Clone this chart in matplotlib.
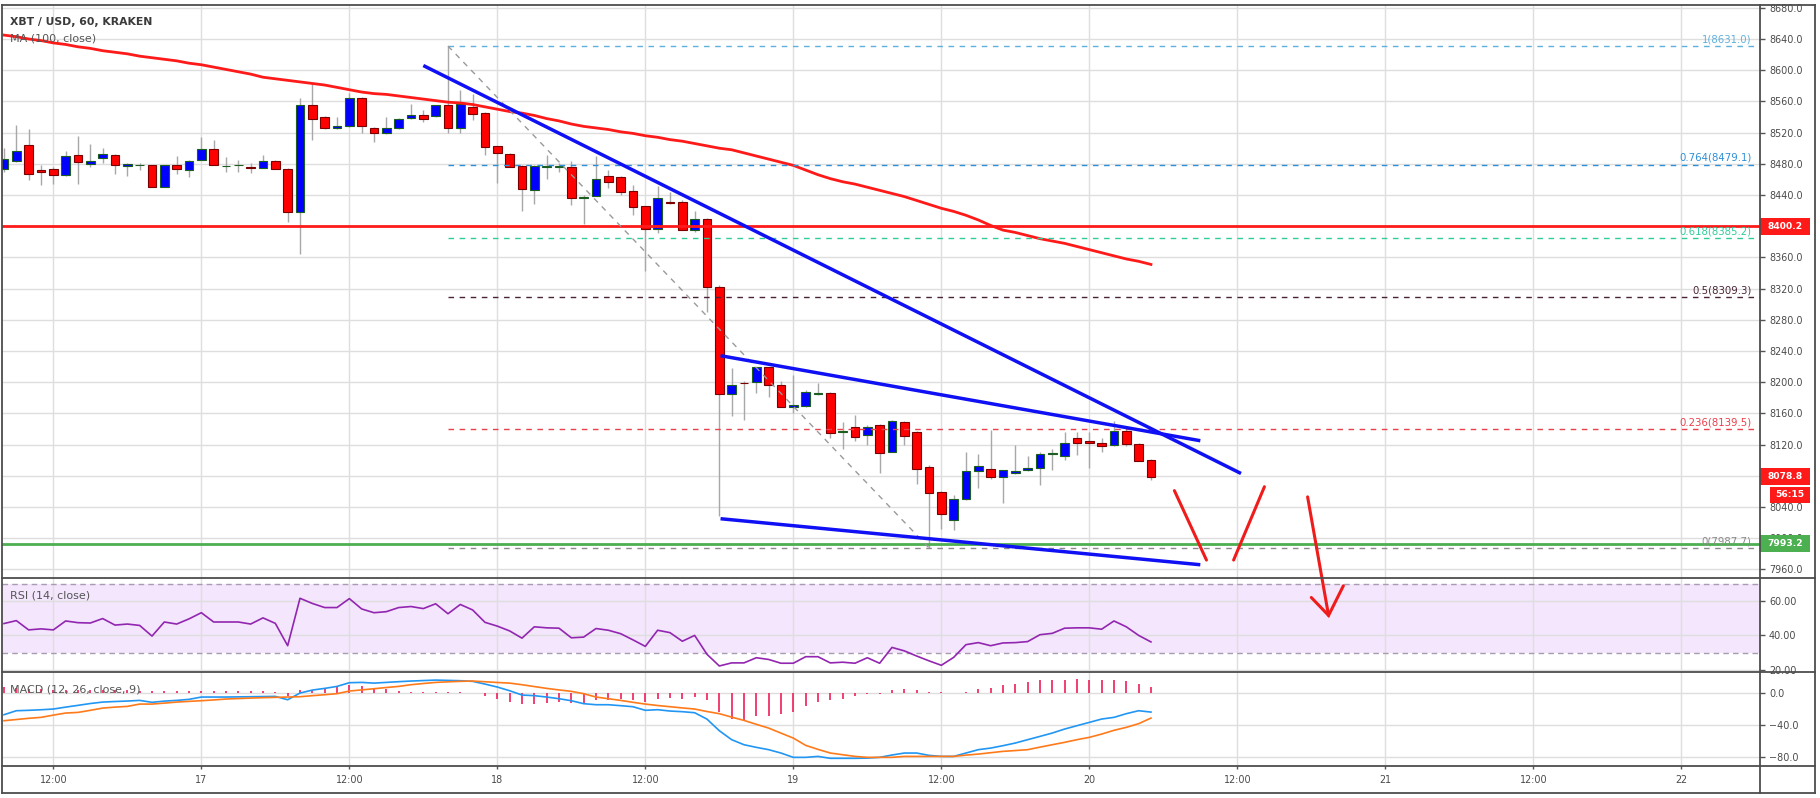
import matplotlib
matplotlib.use('Agg')
import matplotlib.pyplot as plt
import matplotlib.transforms as mtrans
from matplotlib.patches import Rectangle
from matplotlib.lines import Line2D

# ---------------- data (hour index 0 = 16th 08:00) ----------------
opens = [8473, 8483, 8504, 8472, 8473, 8466, 8491, 8480, 8487, 8491,
         8477, 8478, 8478.5, 8450, 8478.5, 8472, 8485, 8499, 8477, 8478,
         8475.5, 8474, 8484, 8473, 8418, 8556, 8539.6, 8525.5, 8528, 8564,
         8525.5, 8519, 8525.5, 8538.7, 8542, 8541, 8555, 8526, 8553, 8544.7,
         8502.8, 8492.6, 8477.6, 8447, 8476.3, 8476.3, 8475.5, 8436, 8439, 8464.4,
         8462.7, 8444.7, 8425.5, 8397, 8430.6, 8430.6, 8395, 8409, 8322, 8184.5,
         8199.4, 8200, 8219, 8196, 8167.8, 8170, 8185.3, 8185.7, 8136.5, 8142,
         8132, 8144.7, 8111, 8148.6, 8135.7, 8091.7, 8058.8, 8023, 8050, 8086,
         8088.3, 8079, 8083, 8087, 8090, 8108.4, 8105, 8128, 8124.2, 8121.6,
         8119, 8137, 8120.4, 8099.8]
highs = [8500, 8530, 8525, 8478, 8476, 8497, 8516, 8505, 8500, 8492,
         8481, 8481.6, 8479, 8479, 8490, 8485, 8514, 8510, 8489, 8484.7,
         8481, 8491, 8485, 8474, 8564, 8584, 8541, 8540, 8571, 8566,
         8527, 8540, 8539, 8556.7, 8549, 8556, 8631, 8575, 8570, 8546,
         8503, 8494, 8478, 8478, 8491, 8481, 8484, 8440, 8490, 8472,
         8465, 8453, 8426, 8451, 8444, 8433, 8419, 8410, 8325, 8218,
         8201, 8220, 8220, 8201, 8209, 8190, 8198.6, 8187, 8149, 8158,
         8145, 8146, 8152, 8150, 8137, 8094, 8060, 8055, 8111, 8108,
         8139, 8088, 8119.5, 8105, 8110, 8115, 8136.6, 8136.6, 8136, 8128,
         8150.7, 8141, 8122, 8101]
lows = [8470, 8482, 8459, 8453, 8454, 8464, 8454, 8476, 8481, 8467,
        8465, 8472, 8450, 8450, 8467, 8463.5, 8485, 8478, 8470, 8470,
        8468, 8474, 8473, 8406, 8365, 8511, 8525, 8525, 8527, 8519,
        8508, 8518, 8525, 8537, 8533, 8540, 8519, 8519, 8536, 8491,
        8455, 8476, 8419.5, 8429, 8461, 8470, 8427, 8403, 8439, 8448.6,
        8440, 8414, 8343, 8391, 8428, 8395, 8393, 8290, 8028, 8157,
        8152, 8186, 8181.5, 8168.6, 8160, 8168, 8184, 8128, 8115, 8125,
        8120, 8083, 8110, 8119.5, 8070, 7987.7, 8012, 8010.5, 8049, 8064,
        8076, 8045, 8082, 8086, 8068, 8087.5, 8100, 8106.7, 8089.6, 8111,
        8118, 8118, 8099, 8074.6]
closes = [8486, 8497, 8467, 8469, 8466, 8490, 8482, 8483, 8493, 8478,
          8480, 8478.5, 8450, 8478.5, 8473, 8484, 8499, 8478, 8477.3, 8478.3,
          8475, 8484, 8473, 8418, 8556, 8538, 8525.5, 8528.5, 8564, 8529,
          8519, 8525.5, 8538, 8542, 8538, 8555, 8526, 8557, 8544, 8502,
          8494, 8476.3, 8447.3, 8477.6, 8476.6, 8476.6, 8435.7, 8438, 8460, 8457,
          8444.3, 8425, 8396, 8436, 8430.3, 8395, 8409, 8322, 8184.5, 8197,
          8199.1, 8219, 8197, 8168.6, 8170.3, 8187, 8185.6, 8134.5, 8138, 8129.3,
          8142, 8109.7, 8150, 8131.5, 8088.3, 8058.4, 8030.6, 8050, 8086, 8093,
          8079, 8087, 8085.7, 8089.6, 8107.5, 8108.7, 8122, 8121.6, 8121.6, 8118.6,
          8137, 8120.4, 8099.4, 8078.8]
ma100 = [8645, 8643, 8640, 8638, 8635, 8633, 8630, 8628, 8625, 8623,
         8621, 8618, 8616, 8614, 8612, 8609, 8607, 8604, 8601, 8598,
         8595, 8591, 8589, 8587, 8585, 8583, 8581, 8578, 8575, 8572,
         8570, 8569, 8567, 8565, 8563, 8561, 8559, 8558, 8556, 8553,
         8550, 8547, 8545, 8542, 8538, 8535, 8531, 8528, 8526, 8524,
         8521, 8519, 8516, 8514, 8511, 8509, 8506, 8503, 8500, 8498,
         8494, 8490, 8486, 8482, 8478, 8472, 8466, 8461, 8457, 8454,
         8450, 8446, 8442, 8438, 8433, 8428, 8423, 8419, 8414, 8408,
         8401, 8395, 8392, 8388, 8384, 8381, 8378, 8374, 8370, 8366,
         8362, 8358, 8355, 8351]
rsi = [46.9, 48.6, 43.2, 43.8, 43.2, 48.4, 47.4, 47.2, 49.8, 46.0,
       46.6, 45.8, 39.6, 47.8, 46.6, 49.6, 53.2, 47.8, 47.8, 47.8,
       46.6, 50.2, 47.0, 34.0, 61.6, 58.6, 56.2, 56.2, 61.4, 55.4,
       53.2, 53.8, 56.2, 56.8, 55.6, 58.4, 52.6, 58.0, 54.8, 47.6,
       45.4, 42.6, 38.4, 45.0, 44.4, 44.2, 38.6, 39.0, 44.0, 43.0,
       41.0, 37.4, 33.6, 43.0, 41.6, 36.6, 40.0, 29.0, 22.2, 24.0,
       24.0, 27.0, 26.0, 23.8, 23.8, 27.6, 27.6, 24.0, 24.4, 23.8,
       27.0, 23.8, 33.0, 31.0, 28.0, 25.2, 22.6, 27.2, 34.6, 35.8,
       34.0, 35.6, 35.8, 36.4, 40.4, 41.2, 44.2, 44.4, 44.4, 43.6,
       48.4, 45.0, 40.0, 36.2]
macd = [-27.5, -22.5, -22.0, -21.3, -20.4, -18.0, -15.8, -13.5, -11.7, -11.0,
        -10.4, -9.6, -12.0, -10.5, -9.6, -8.3, -5.4, -5.4, -5.4, -5.2,
        -5.0, -4.8, -4.6, -8.8, -0.4, 3.3, 5.4, 7.9, 12.5, 12.9,
        12.0, 12.9, 13.8, 14.6, 15.2, 15.8, 15.4, 15.0, 14.2, 10.8,
        7.1, 2.5, -2.9, -3.7, -5.4, -7.5, -10.0, -13.7, -15.0, -15.0,
        -16.2, -17.5, -22.0, -21.2, -22.9, -23.7, -25.0, -33.0, -47.5, -58.7,
        -65.0, -68.3, -71.2, -75.4, -80.8, -80.8, -79.6, -82.0, -82.0, -82.0,
        -81.7, -80.8, -77.9, -75.4, -75.4, -78.3, -79.6, -79.6, -75.4, -71.2,
        -69.2, -66.2, -62.9, -58.7, -54.6, -50.4, -45.4, -41.2, -37.1, -32.9,
        -30.8, -26.2, -22.5, -24.2]
signal = [-35.0, -33.5, -32.0, -30.8, -28.0, -25.4, -24.6, -22.0, -19.2, -18.0,
          -17.1, -14.2, -14.2, -13.0, -11.7, -10.8, -10.0, -9.0, -7.9, -7.3,
          -6.7, -6.2, -5.8, -5.4, -5.0, -3.7, -2.5, -1.2, 2.1, 3.5,
          5.0, 6.5, 7.9, 10.0, 11.5, 12.9, 13.6, 14.2, 14.6, 13.7,
          12.8, 12.0, 10.0, 7.7, 5.4, 3.5, 1.7, -1.2, -5.4, -7.5,
          -9.6, -12.0, -14.2, -16.0, -17.5, -19.0, -20.4, -23.5, -26.2, -30.5,
          -34.6, -39.5, -44.2, -50.5, -56.7, -65.8, -70.8, -75.4, -77.5, -79.6,
          -80.8, -80.8, -80.8, -79.6, -79.6, -79.6, -79.6, -79.6, -78.0, -76.7,
          -75.0, -73.3, -72.3, -71.2, -68.0, -65.0, -62.0, -58.7, -55.8, -51.7,
          -47.0, -43.3, -38.7, -31.7]
hist = [7, 6, 5, 5, 4, 4, 4, 4, 4, 3,
        3, 2, 2, 2, 2, 2, 2, 2, 2, 2,
        2, 2, 1.5, -4, 3, 4, 5, 7, 10, 9,
        6.5, 4.5, 2.5, 1.5, 1.5, 1.2, 0.8, 0.6, -0.4, -4.5,
        -7.5, -11.5, -13.5, -13.5, -13, -12, -12.5, -13.5, -9.5, -8.5,
        -7.5, -8.5, -11.5, -7.5, -6.3, -7.5, -5.5, -9.6, -24, -32.5,
        -33.7, -29.6, -29.6, -27, -24, -17, -11.7, -8.7, -7.5, -4,
        -2, -1, 3.7, 4.6, 3.3, 1, 0.3, -0.8, 0.4, 4.6,
        5.4, 9.2, 10.4, 13.3, 15.4, 15.4, 16.2, 17, 16.2, 15.4,
        15.4, 14.6, 11.2, 7.1]

time_ticks = [4, 16, 28, 40, 52, 64, 76, 88, 100, 112, 124, 136]
time_labels = ['12:00', '17', '12:00', '18', '12:00', '19', '12:00', '20',
               '12:00', '21', '12:00', '22']
price_ticks = list(range(7960, 8681, 40))
hidden_price_labels = [8080, 8400]

level_support = 7993.2
level_resist = 8400.2
fib_start = 36
fib_levels = [('1', 8631.0, '#5fb0dc'), ('0.764', 8479.1, '#2e8fd8'),
              ('0.618', 8385.2, '#2fcc9a'), ('0.5', 8309.3, '#4a2436'),
              ('0.236', 8139.5, '#e8404c'), ('0', 7987.7, '#8a8a8a')]
fib_diag = ([36, 75], [8631.0, 7987.7])
trend_upper = ([34.0, 100.3], [8606, 8083])
trend_mid = ([58.1, 97.0], [8234, 8125])
trend_low = ([58.1, 97.0], [8025, 7966])
arrow_a = ([94.9, 97.5], [8061, 7972])
arrow_b = ([99.7, 102.2], [7972, 8066])
arrow_c = ([105.7, 107.4], [8053, 7901])
arrow_c_head = ([106.0, 107.4, 108.6], [7924, 7901, 7939])
last_timer = '56:15'

# ---------------- layout ----------------
W, H = 1820, 798
fig = plt.figure(figsize=(W / 100, H / 100), dpi=100)
fig.patch.set_facecolor('white')

def fx(px):
    return px / W

def fy(py):
    return 1 - py / H

def add_ax(x0, y0, x1, y1):
    return fig.add_axes([fx(x0), fy(y1), (x1 - x0) / W, (y1 - y0) / H])

L, R = 2, 1760
ax_p = add_ax(L, 5, R, 578)
ax_r = add_ax(L, 578, R, 672)
ax_m = add_ax(L, 672, R, 766)
ax_p.set_zorder(3)
ax_r.set_zorder(1)
ax_m.set_zorder(1)

px_per_h = 12.333
xlim = ((L - 4) / px_per_h, (R - 4) / px_per_h)
grid_c = '#dedede'
txt_c = '#4a4a4a'

for ax in (ax_p, ax_r, ax_m):
    ax.set_xlim(*xlim)
    for s in ax.spines.values():
        s.set_visible(False)
    ax.set_xticks(time_ticks)
    ax.grid(True, color=grid_c, lw=1)
    ax.set_axisbelow(True)
    ax.yaxis.tick_right()
    ax.tick_params(axis='y', direction='out', length=3.6, width=1, color='#555555',
                   labelsize=6.9, labelcolor=txt_c, pad=2.9)
    ax.tick_params(axis='x', length=0, labelbottom=False)

# ---------- price pane ----------
ax_p.set_ylim(7949, 8683.6)
ax_p.set_yticks(price_ticks)
ax_p.set_yticklabels(['' if v in hidden_price_labels else '%.1f' % v for v in price_ticks])
for lab in ax_p.get_yticklabels():
    lab.set_horizontalalignment('left')

tt = list(range(len(opens)))
for i in tt:
    o, h, l, c = opens[i], highs[i], lows[i], closes[i]
    up = c >= o
    body = '#0000ff' if up else '#ff0000'
    edge = '#1b5e20' if up else '#7a0000'
    ax_p.vlines(i, l, h, color='#a8a8a8', lw=1, zorder=2)
    ax_p.bar(i, abs(c - o), bottom=min(o, c), width=0.7, color=body,
             edgecolor=edge, linewidth=0.8, zorder=3)

ax_p.plot(tt, ma100, color='#ff1a1a', lw=2, zorder=4)
ax_p.axhline(level_resist, color='#ff1a1a', lw=2, zorder=4)
ax_p.axhline(level_support, color='#4caf50', lw=2, zorder=4)

blend = mtrans.blended_transform_factory(ax_p.transAxes, ax_p.transData)
label_x = (1751.7 - L) / (R - L)
for name, val, col in fib_levels:
    ax_p.hlines(val, fib_start, xlim[1], colors=col, linestyles=(0, (4, 4)), lw=1, zorder=4)
    ax_p.annotate('%s(%.1f)' % (name, val), xy=(label_x, val), xycoords=blend,
                  xytext=(0, 1.2), textcoords='offset points', ha='right', va='bottom',
                  fontsize=7.3, color=col, zorder=6)
ax_p.plot(fib_diag[0], fib_diag[1], color='#9a9a9a', lw=1, ls=(0, (4, 4)), zorder=4)

for tl in (trend_upper, trend_mid, trend_low):
    ax_p.plot(tl[0], tl[1], color='#1010f5', lw=2.5, solid_capstyle='butt', zorder=5)

for ar in (arrow_a, arrow_b, arrow_c):
    ax_p.plot(ar[0], ar[1], color='#f01c1c', lw=2.2, clip_on=False, zorder=6,
              solid_capstyle='round')
ax_p.plot(arrow_c_head[0], arrow_c_head[1], color='#f01c1c', lw=2.2, clip_on=False,
          zorder=6, solid_capstyle='round', solid_joinstyle='miter')

# price boxes on the scale
ppp = (8683.6 - 7949) / (578 - 5)
fblend = mtrans.blended_transform_factory(fig.transFigure, ax_p.transData)

def price_box(val, text, color, x0=1760, x1=1810, hpx=17, fs=6.6):
    h = hpx * ppp
    r = Rectangle((fx(x0), val - h / 2), fx(x1) - fx(x0), h, transform=fblend,
                  facecolor=color, edgecolor='none', clip_on=False, zorder=10)
    ax_p.add_patch(r)
    ax_p.text(fx((x0 + x1) / 2), val, text, transform=fblend, ha='center', va='center',
              color='white', fontsize=fs, fontweight='bold', clip_on=False, zorder=11)

price_box(level_resist, '%.1f' % level_resist, '#ff1a1a')
price_box(closes[-1], '%.1f' % closes[-1], '#ff1a1a')
price_box(closes[-1] - 18 * ppp, last_timer, '#ff1a1a', x0=1770, hpx=16)
price_box(level_support, '%.1f' % level_support, '#4caf50')

# ---------- RSI pane ----------
ax_r.set_ylim(18.7, 73.4)
ax_r.set_yticks([20, 40, 60])
ax_r.set_yticklabels(['20.00', '40.00', '60.00'])
for lab in ax_r.get_yticklabels():
    lab.set_horizontalalignment('left')
ax_r.axhspan(30, 70, color='#f3e6fd', zorder=0.5, lw=0)
for v in (30, 70):
    ax_r.axhline(v, color='#a89cb0', lw=1, ls=(0, (4, 3)), zorder=1)
ax_r.plot(tt, rsi, color='#9226b0', lw=1.2, zorder=3)

# ---------- MACD pane ----------
ax_m.set_ylim(-91.6, 25.9)
ax_m.set_yticks([-80, -40, 0])
ax_m.set_yticklabels(['\u221280.0', '\u221240.0', '0.0'])
for lab in ax_m.get_yticklabels():
    lab.set_horizontalalignment('left')
ax_m.vlines(tt, 0, hist, color='#f01e5a', lw=1.2, zorder=2)
ax_m.plot(tt, macd, color='#2196f3', lw=1.2, zorder=3)
ax_m.plot(tt, signal, color='#ff7a1a', lw=1.2, zorder=3)
ax_m.tick_params(axis='x', length=2.5, width=1, color='#555555', labelbottom=True,
                 labelsize=6.9, labelcolor=txt_c, pad=4.3, direction='out')
ax_m.set_xticklabels(time_labels)

# ---------- frame & separators ----------
frame_c = '#4d4d4d'
def fig_line(x0, y0, x1, y1, lw=1.3):
    fig.add_artist(Line2D([fx(x0), fx(x1)], [fy(y0), fy(y1)], color=frame_c, lw=lw,
                          transform=fig.transFigure, zorder=20))

fig_line(2, 5, 1815, 5)
fig_line(2, 793, 1815, 793)
fig_line(2, 5, 2, 793)
fig_line(1815, 5, 1815, 793)
fig_line(1760, 5, 1760, 793)
for yy in (578, 672, 766):
    fig_line(2, yy, 1815, yy)

# ---------- pane titles ----------
fig.text(fx(10), fy(22), 'XBT / USD, 60, KRAKEN', fontsize=7.8, fontweight='bold',
         color='#3a3a3a', va='center', ha='left', zorder=21)
fig.text(fx(10), fy(38.5), 'MA (100, close)', fontsize=8.0, color='#555555',
         va='center', ha='left', zorder=21)
fig.text(fx(10), fy(596), 'RSI (14, close)', fontsize=8.0, color='#555555',
         va='center', ha='left', zorder=21)
fig.text(fx(10), fy(690), 'MACD (12, 26, close, 9)', fontsize=8.0, color='#555555',
         va='center', ha='left', zorder=21)

fig.savefig('out.png', dpi=100, facecolor='white')
